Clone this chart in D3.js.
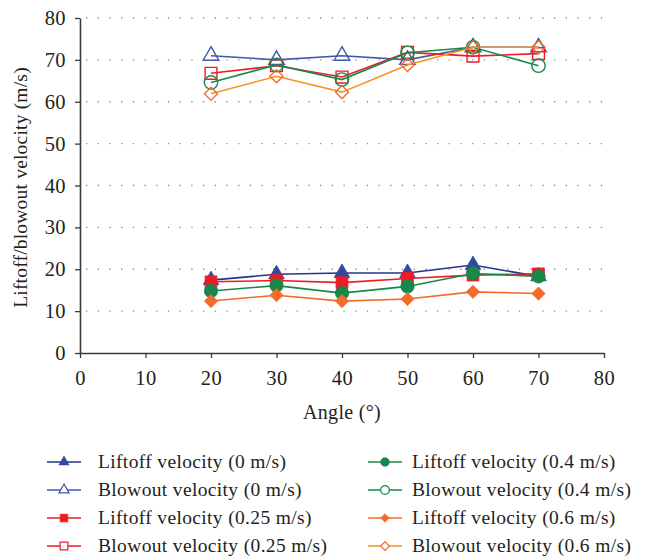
<!DOCTYPE html>
<html>
<head>
<meta charset="utf-8">
<script src="https://cdn.jsdelivr.net/npm/d3@7"></script>
<style>
  html, body { margin: 0; padding: 0; background: #fff; }
  svg { display: block; }
  text { font-family: "Liberation Serif", "DejaVu Serif", serif; fill: #231f20; }
</style>
</head>
<body>
<svg id="chart" width="654" height="557"></svg>
<script>
// Inclination angle of the burner (degrees)
const angles = [20, 30, 40, 50, 60, 70];

// Liftoff / blowout velocities (m/s) for each co-flow velocity
const liftoff0   = [17.4, 18.8, 19.1, 19.1, 21.0, 18.3];
const blowout0   = [71.0, 70.0, 71.0, 70.0, 73.0, 73.0];
const liftoff025 = [17.0, 17.3, 16.8, 17.8, 18.6, 18.9];
const blowout025 = [66.8, 68.6, 65.9, 71.8, 70.9, 71.5];
const liftoff04  = [14.8, 16.1, 14.3, 15.9, 19.0, 18.3];
const blowout04  = [64.6, 68.8, 65.3, 71.7, 73.0, 68.6];
const liftoff06  = [12.4, 13.8, 12.4, 12.9, 14.6, 14.2];
const blowout06  = [61.9, 66.1, 62.3, 68.8, 73.0, 73.0];

const xTicks = [0, 10, 20, 30, 40, 50, 60, 70, 80];
const yTicks = [0, 10, 20, 30, 40, 50, 60, 70, 80];

const seriesNames = [
  "Liftoff velocity (0 m/s)", "Blowout velocity (0 m/s)",
  "Liftoff velocity (0.25 m/s)", "Blowout velocity (0.25 m/s)",
  "Liftoff velocity (0.4 m/s)", "Blowout velocity (0.4 m/s)",
  "Liftoff velocity (0.6 m/s)", "Blowout velocity (0.6 m/s)"
];
const seriesValues = [liftoff0, blowout0, liftoff025, blowout025,
                      liftoff04, blowout04, liftoff06, blowout06];

// styling for each series: line colour, marker colour, shape, filled
const styles = [
  { line: "#27338a", mark: "#2e4b9b", shape: "triangle", filled: true },
  { line: "#3f5aa9", mark: "#3f5aa9", shape: "triangle", filled: false },
  { line: "#ed1c24", mark: "#ed1c24", shape: "square",   filled: true },
  { line: "#ed1c24", mark: "#ed1c24", shape: "square",   filled: false },
  { line: "#17884a", mark: "#17884a", shape: "circle",   filled: true },
  { line: "#17884a", mark: "#17884a", shape: "circle",   filled: false },
  { line: "#f26b2b", mark: "#f26b2b", shape: "diamond",  filled: true },
  { line: "#f7941d", mark: "#f26b2b", shape: "diamond",  filled: false }
];

const svg = d3.select("#chart");
const plot = { left: 80, right: 604, top: 18, bottom: 353 };

const x = d3.scaleLinear().domain([0, 80]).range([plot.left, plot.right]);
const y = d3.scaleLinear().domain([0, 80]).range([plot.bottom, plot.top]);

// dotted horizontal gridlines
svg.append("g")
  .selectAll("line")
  .data(yTicks.filter(d => d > 0))
  .join("line")
  .attr("x1", plot.left + 6).attr("x2", plot.right)
  .attr("y1", d => y(d)).attr("y2", d => y(d))
  .attr("stroke", "#8a8a8a")
  .attr("stroke-width", 1.3)
  .attr("stroke-dasharray", "1.3,10.4");

// axes
const xAxis = d3.axisBottom(x).tickValues(xTicks).tickSize(5).tickPadding(12).tickSizeOuter(0);
const yAxis = d3.axisLeft(y).tickValues(yTicks).tickSize(5).tickPadding(9).tickSizeOuter(0);

const gx = svg.append("g").attr("transform", `translate(0,${plot.bottom})`).call(xAxis);
const gy = svg.append("g").attr("transform", `translate(${plot.left},0)`).call(yAxis);

[gx, gy].forEach(g => {
  g.select(".domain").attr("stroke", "#3a3a3a").attr("stroke-width", 1.6);
  g.selectAll(".tick line").attr("stroke", "#3a3a3a").attr("stroke-width", 1.3);
  g.selectAll(".tick text")
    .attr("font-family", "Liberation Serif, DejaVu Serif, serif")
    .attr("font-size", 20.5)
    .attr("letter-spacing", 0.4)
    .attr("fill", "#231f20");
});

// axis titles
svg.append("text")
  .attr("x", x(40)).attr("y", 419)
  .attr("text-anchor", "middle")
  .attr("font-size", 20)
  .attr("letter-spacing", 0.3)
  .text("Angle (°)");

svg.append("text")
  .attr("transform", `translate(27,${(plot.top + plot.bottom) / 2 + 2}) rotate(-90)`)
  .attr("text-anchor", "middle")
  .attr("font-size", 19.5)
  .attr("letter-spacing", 0.2)
  .text("Liftoff/blowout velocity (m/s)");

// marker generator
function markerPath(shape, size) {
  if (shape === "triangle") return d3.symbol(d3.symbolTriangle, size * 0.75)();
  if (shape === "square") return d3.symbol(d3.symbolSquare, size)();
  if (shape === "circle") return d3.symbol(d3.symbolCircle, size)();
  // diamond: square turned 45 degrees
  return d3.symbol(d3.symbolSquare, size * 0.62)();
}
function markerRotate(shape) { return shape === "diamond" ? " rotate(45)" : ""; }

const line = d3.line().x((d, i) => x(angles[i])).y(d => y(d));

const seriesG = svg.append("g");
seriesValues.forEach((vals, k) => {
  const st = styles[k];
  const g = seriesG.append("g");
  g.append("path")
    .attr("d", line(vals))
    .attr("fill", "none")
    .attr("stroke", st.line)
    .attr("stroke-width", 1.6);
  g.selectAll("path.mk")
    .data(vals)
    .join("path")
    .attr("class", "mk")
    .attr("d", markerPath(st.shape, 140))
    .attr("transform", (d, i) => `translate(${x(angles[i])},${y(d)})${markerRotate(st.shape)}`)
    .attr("fill", st.filled ? st.mark : "#fff")
    .attr("fill-opacity", st.filled ? 1 : 0)
    .attr("stroke", st.mark)
    .attr("stroke-width", st.filled ? 0.8 : 1.4);
});

// legend, two columns of four rows
const legend = svg.append("g");
seriesNames.forEach((name, k) => {
  const st = styles[k];
  const col = Math.floor(k / 4), row = k % 4;
  const lx = col === 0 ? 47 : 368;
  const ly = 462 + row * 28;
  const item = legend.append("g").attr("transform", `translate(${lx},${ly})`);
  item.append("line")
    .attr("x1", 0).attr("x2", 34).attr("y1", 0).attr("y2", 0)
    .attr("stroke", st.line).attr("stroke-width", 1.6);
  item.append("path")
    .attr("d", markerPath(st.shape, 60))
    .attr("transform", `translate(17,0)${markerRotate(st.shape)}`)
    .attr("fill", st.filled ? st.mark : "#fff")
    .attr("stroke", st.mark)
    .attr("stroke-width", st.filled ? 0.6 : 1.2);
  item.append("text")
    .attr("x", col === 0 ? 51 : 44).attr("y", 6)
    .attr("font-size", 19.5)
    .attr("letter-spacing", 0.35)
    .text(name);
});
</script>
</body>
</html>
